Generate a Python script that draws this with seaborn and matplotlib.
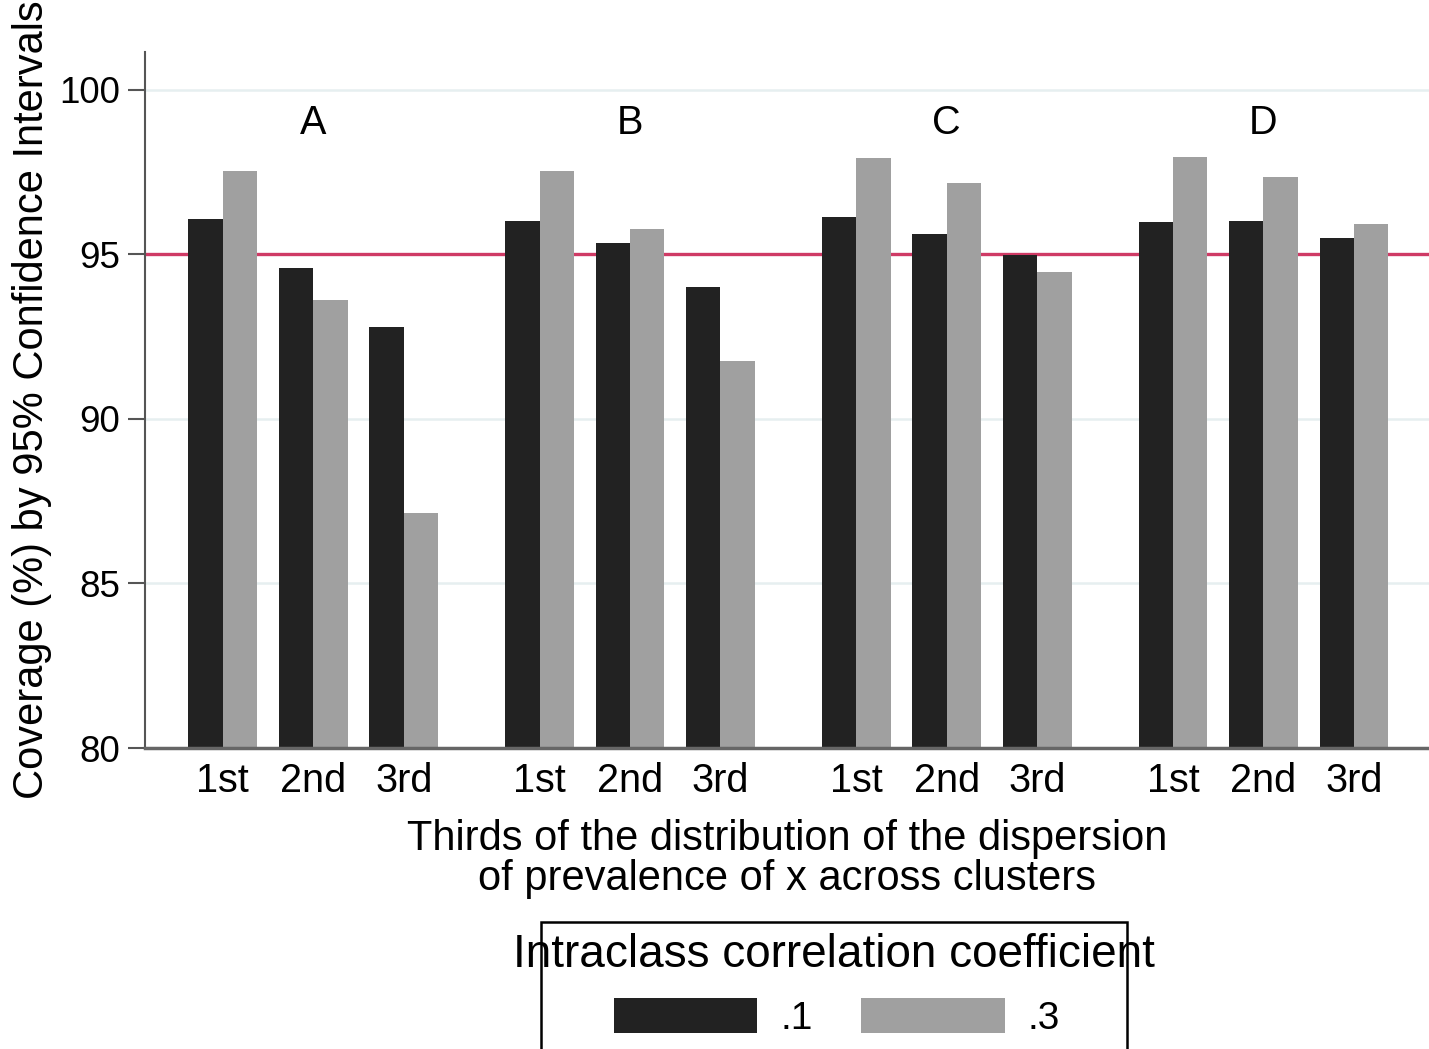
import matplotlib
matplotlib.use("Agg")
import matplotlib.pyplot as plt
import seaborn as sns
import pandas as pd
import numpy as np
from matplotlib.patches import Patch, Rectangle

# ---- data ----
scenarios = ["A", "B", "C", "D"]
thirds = ["1st", "2nd", "3rd"]
icc_levels = [".1", ".3"]
cov_icc01 = [96.08, 94.58, 92.79,   # A
             96.02, 95.34, 94.00,   # B
             96.15, 95.62, 94.98,   # C
             95.97, 96.02, 95.49]   # D
cov_icc03 = [97.52, 93.62, 87.13,
             97.52, 95.78, 91.75,
             97.92, 97.18, 94.47,
             97.97, 97.35, 95.91]
reference_level = 95
y_ticks = [80, 85, 90, 95, 100]

sns.set_theme(style="white")
plt.rcParams['font.family'] = ['Liberation Sans', 'DejaVu Sans']
plt.rcParams['text.color'] = 'black'
plt.rcParams['axes.labelcolor'] = 'black'
plt.rcParams['xtick.color'] = 'black'
plt.rcParams['ytick.color'] = 'black'

rows = []
for gi, sc in enumerate(scenarios):
    for ti, th in enumerate(thirds):
        k = gi * 3 + ti
        pos = gi * 3.5 + ti
        rows.append(dict(pos=pos, scen=sc, third=th, icc=icc_levels[0], cov=cov_icc01[k]))
        rows.append(dict(pos=pos, scen=sc, third=th, icc=icc_levels[1], cov=cov_icc03[k]))
df = pd.DataFrame(rows)

W, H = 1429, 1049
fig = plt.figure(figsize=(W / 100, H / 100), dpi=100)
ax = fig.add_axes([145 / W, 1 - 748 / H, (W - 145) / W, (748 - 52) / H])

palette = {icc_levels[0]: "#222222", icc_levels[1]: "#a0a0a0"}
ax.axhline(reference_level, color="#cf3a65", lw=2.4, zorder=0)
for yt in y_ticks:
    if yt != reference_level:
        ax.axhline(yt, color="#e6eff0", lw=1.8, zorder=0)

sns.barplot(data=df, x="pos", y="cov", hue="icc", hue_order=icc_levels,
            palette=palette, native_scale=True, width=0.76, gap=0,
            saturation=1, errorbar=None, ax=ax, legend=False, zorder=2,
            linewidth=0)

ax.set_ylim(80, 101.15)
ax.set_xlim(-0.86, 13.33)
ax.set_yticks(y_ticks)
ax.set_yticklabels([str(v) for v in y_ticks], fontsize=26.5)
positions = sorted(df["pos"].unique())
ax.set_xticks(positions)
ax.set_xticklabels(thirds * len(scenarios), fontsize=28.5)
ax.tick_params(axis="x", length=0, pad=10)
ax.tick_params(axis="y", length=12, width=1.5, color="#555555", pad=6, left=True)

for gi, sc in enumerate(scenarios):
    ax.text(gi * 3.5 + 1, 99.0, sc, ha="center", va="center", fontsize=28.5)

for s in ["top", "right"]:
    ax.spines[s].set_visible(False)
ax.spines["left"].set_color("#555555")
ax.spines["left"].set_linewidth(1.5)
ax.spines["bottom"].set_color("#666666")
ax.spines["bottom"].set_linewidth(2.5)

ax.set_xlabel("Thirds of the distribution of the dispersion\nof prevalence of x across clusters",
              fontsize=30, linespacing=1.0)
ax.set_ylabel("Coverage (%) by 95% Confidence Intervals", fontsize=30)
ax.xaxis.set_label_coords((787 - 145) / (W - 145), -(859 - 748) / (748 - 52), transform=ax.transAxes)
ax.xaxis.label.set_va("center")
ax.yaxis.set_label_coords(-(145 - 32) / (W - 145), 0.5, transform=ax.transAxes)
ax.yaxis.label.set_va("center")

# legend: frame, title and entries
fig.patches.append(Rectangle((541 / W, 1 - 1060 / H), (1127 - 541) / W, (1060 - 922) / H,
                             transform=fig.transFigure, fill=False, edgecolor="black",
                             linewidth=1.8, zorder=5))
fig.text(834 / W, 1 - 955 / H, "Intraclass correlation coefficient", ha="center",
         va="center", fontsize=33)
handles = [Patch(facecolor=palette[l], edgecolor="none") for l in icc_levels]
leg = fig.legend(handles, icc_levels, loc="upper left",
                 bbox_to_anchor=(614 / W, 1 - 998 / H),
                 ncol=2, fontsize=28, frameon=False, borderpad=0, borderaxespad=0,
                 handlelength=3.68, handleheight=1.0, columnspacing=1.25,
                 handletextpad=0.6)

fig.savefig("out.png", dpi=100, facecolor="white")
